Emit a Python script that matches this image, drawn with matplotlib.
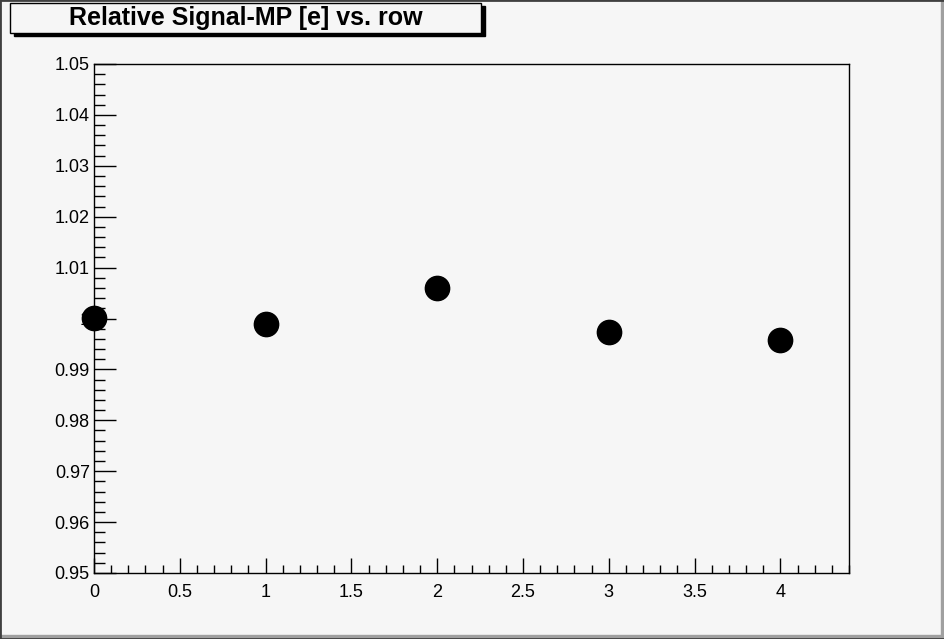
import matplotlib
matplotlib.use('Agg')
import matplotlib.pyplot as plt
from matplotlib.patches import Rectangle
from matplotlib.ticker import MultipleLocator, FormatStrFormatter

# -- Data
rows = [0, 1, 2, 3, 4]
rel_signal = [1.0001, 0.9989, 1.0060, 0.9973, 0.9958]
title = 'Relative Signal-MP [e] vs. row'

W, H = 945, 639
bg = '#f6f6f6'

fig = plt.figure(figsize=(W / 100, H / 100), dpi=100, facecolor=bg)
plt.rcParams['font.family'] = ['Liberation Sans', 'DejaVu Sans']

# -- Plot area in pixel coordinates
left, right, top, bottom = 94, 849, 64, 573
ax = fig.add_axes([left / W, 1 - bottom / H, (right - left) / W, (bottom - top) / H])
ax.set_facecolor(bg)
# markers sit on top of the tick labels, as in the ROOT canvas
ax.plot(rows, rel_signal, 'o', color='black', markersize=17.5, clip_on=False, zorder=5)

ax.set_xlim(0, 4.4)
ax.set_ylim(0.95, 1.05)
ax.xaxis.set_major_locator(MultipleLocator(0.5))
ax.xaxis.set_minor_locator(MultipleLocator(0.1))
ax.yaxis.set_major_locator(MultipleLocator(0.01))
ax.yaxis.set_minor_locator(MultipleLocator(0.002))
ax.xaxis.set_major_formatter(FormatStrFormatter('%g'))
ax.yaxis.set_major_formatter(FormatStrFormatter('%g'))

ax.tick_params(axis='x', which='major', direction='in', length=11, width=1, labelsize=13, pad=8)
ax.tick_params(axis='x', which='minor', direction='in', length=5.5, width=1)
ax.tick_params(axis='y', which='major', direction='in', length=16, width=1, labelsize=13, pad=3)
ax.tick_params(axis='y', which='minor', direction='in', length=8, width=1)
ax.tick_params(top=False, right=False, which='both')
for sp in ax.spines.values():
    sp.set_linewidth(1)
    sp.set_color('black')

# -- Canvas frame (dark bottom/right, lighter top/left)
fig.patches.append(Rectangle((0, 0), 1, 1, transform=fig.transFigure, fill=False,
                             edgecolor='#404040', linewidth=2))
fig.patches.append(Rectangle((1 - 4 / W, 0), 4 / W, 1, transform=fig.transFigure,
                             color='#a0a0a0', zorder=0))
fig.patches.append(Rectangle((0, 0), 1, 4 / H, transform=fig.transFigure,
                             color='#a0a0a0', zorder=0))

# -- Title box with shadow
bx0, bx1, by0, by1 = 10, 481, 3, 33
fig.patches.append(Rectangle(((bx0 + 4) / W, 1 - (by1 + 3) / H), (bx1 - bx0) / W, (by1 - by0) / H,
                             transform=fig.transFigure, color='black'))
fig.patches.append(Rectangle((bx0 / W, 1 - by1 / H), (bx1 - bx0) / W, (by1 - by0) / H,
                             transform=fig.transFigure, facecolor=bg, edgecolor='black', linewidth=1))
fig.text((bx0 + bx1) / 2 / W, 1 - (by0 + by1) / 2 / H, title, ha='center', va='center',
         fontsize=18, fontweight='bold')

fig.savefig('out.png', dpi=100, facecolor=bg)
